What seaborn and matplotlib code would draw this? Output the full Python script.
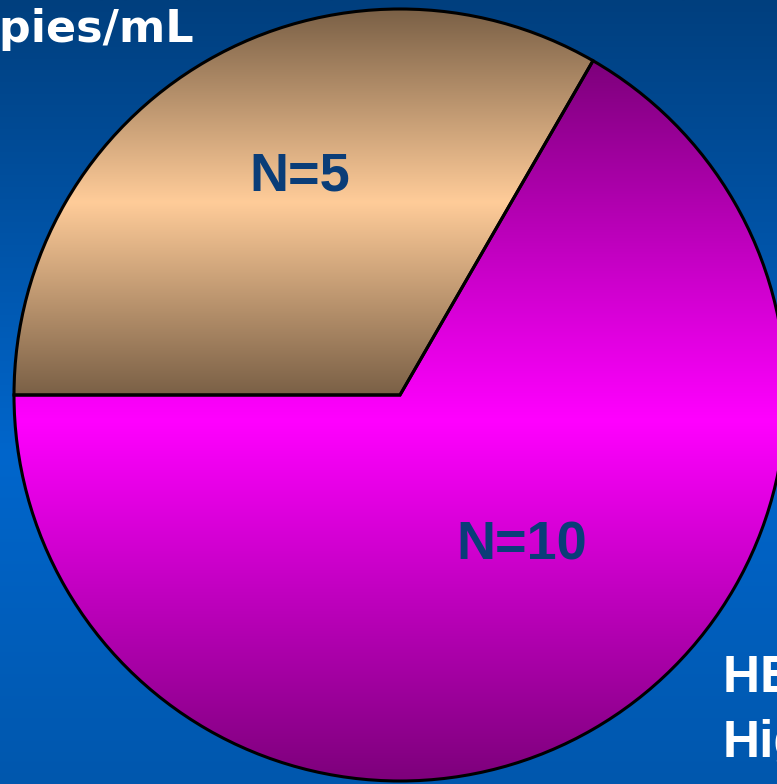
import numpy as np
import matplotlib
matplotlib.use("Agg")
import matplotlib.pyplot as plt
from matplotlib.colors import to_rgb
import seaborn as sns

# Patient counts per viral-load group
counts = [5, 10]
slice_labels = [f"N={n}" for n in counts]

# Two-tone fills for each slice: (edge shade, centre shade)
slice_shades = [("#7a6046", "#ffcc99"), ("#7d007b", "#ff00ff")]

# Label anchor points inside the pie (pie units, radius = 1)
label_xy = [(-0.259, 0.566), (0.316, -0.389)]

sns.set_style("white")
plt.rcParams["font.family"] = ["Liberation Sans", "DejaVu Sans"]
plt.rcParams["font.weight"] = "bold"

W, H = 777, 784
CX, CY, R = 400, 395, 386  # pie centre and radius in pixels

fig = plt.figure(figsize=(W / 100, H / 100), dpi=100)
ax = fig.add_axes([0, 0, 1, 1])

xlim = (-CX / R, (W - CX) / R)
ylim = (-(H - CY) / R, CY / R)

# Blue slide background, darkest at the top
stops = [(0.0, "#003f7e"), (0.58, "#0066cc"), (1.0, "#0057ad")]
t = np.linspace(0, 1, 600)
pos = [s[0] for s in stops]
cols = np.array([to_rgb(s[1]) for s in stops])
bg = np.stack([np.interp(t, pos, cols[:, k]) for k in range(3)], axis=-1)
ax.imshow(bg[:, None, :], extent=(*xlim, *ylim), origin="upper",
          aspect="auto", zorder=0, interpolation="bilinear")

wedges, _ = ax.pie(
    counts, startangle=60, counterclock=True, radius=1, center=(0, 0),
    wedgeprops=dict(edgecolor="black", linewidth=2.2, facecolor="none"),
)

def band_fill(edge, centre, n=512):
    """Vertical gradient: edge shade at top and bottom, centre shade in the middle."""
    s = np.linspace(0, 1, n)
    w = 1 - np.abs(2 * s - 1)
    e, c = np.array(to_rgb(edge)), np.array(to_rgb(centre))
    return (e[None, :] + (c - e)[None, :] * w[:, None])[:, None, :]

for wedge, (edge, centre) in zip(wedges, slice_shades):
    wedge.set_zorder(3)
    ext = wedge.get_path().get_extents()
    im = ax.imshow(band_fill(edge, centre), extent=(ext.x0, ext.x1, ext.y0, ext.y1),
                   origin="upper", aspect="auto", zorder=2, interpolation="bilinear")
    im.set_clip_path(wedge)

for (x, y), lab in zip(label_xy, slice_labels):
    ax.text(x, y, lab, ha="center", va="center", fontsize=39,
            fontweight="bold", color="#0a3d78", zorder=4)

# Slide titles partly running off the frame
ax.text((194 - CX) / R, (CY - 42) / R, "copies/mL", ha="right", va="baseline",
        fontsize=32, fontweight="bold", color="white", zorder=4,
        family=["DejaVu Sans"])
ax.text((723 - CX) / R, (CY - 692) / R, "HBV DNA", ha="left", va="baseline",
        fontsize=37, fontweight="bold", color="white", zorder=4)
ax.text((723 - CX) / R, (CY - 757) / R, "High", ha="left", va="baseline",
        fontsize=37, fontweight="bold", color="white", zorder=4)

ax.set_xlim(*xlim)
ax.set_ylim(*ylim)
ax.set_aspect("equal")
ax.axis("off")

fig.savefig("out.png", dpi=100)
